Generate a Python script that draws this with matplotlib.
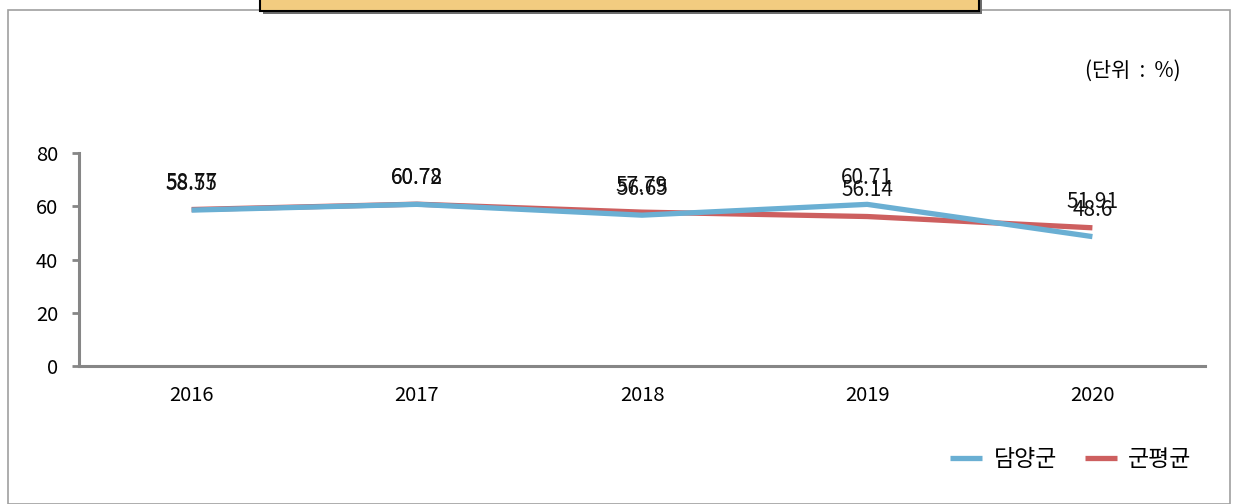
import matplotlib
matplotlib.use("Agg")
import matplotlib.pyplot as plt
from matplotlib.patches import Rectangle

plt.rcParams['font.family'] = ['Noto Sans CJK KR', 'DejaVu Sans']

years = ['2016', '2017', '2018', '2019', '2020']
damyang = [58.55, 60.72, 56.65, 60.71, 48.6]
avg = [58.77, 60.78, 57.79, 56.14, 51.91]
names = ['담양군', '군평균']

W, H = 1236, 504
fig = plt.figure(figsize=(W / 100, H / 100), dpi=100)

# outer frame
fig.add_artist(Rectangle((8 / W, 0), 1222 / W, 1 - 10 / H, transform=fig.transFigure,
                         fill=False, edgecolor='#a0a0a0', linewidth=1.2))
# title box cut off at the top (shadow + box)
fig.add_artist(Rectangle((263 / W, 1 - 14 / H), 719 / W, 14 / H, transform=fig.transFigure,
                         facecolor='#6e6e6e', edgecolor='none'))
fig.add_artist(Rectangle((260 / W, 1 - 11 / H), 719 / W, 13 / H, transform=fig.transFigure,
                         facecolor='#f2cc80', edgecolor='black', linewidth=1.5))

ax = fig.add_axes([79 / W, 1 - 366 / H, (1205 - 79) / W, (366 - 153) / H])
x = range(len(years))
ax.plot(x, avg, color='#cd5f5f', linewidth=3.8, solid_capstyle='butt', label=names[1])
ax.plot(x, damyang, color='#6aafd3', linewidth=3.8, solid_capstyle='butt', label=names[0])

for i in x:
    ax.annotate(f'{avg[i]:g}', (i, avg[i]), xytext=(0, 11), textcoords='offset points',
                ha='center', va='bottom', fontsize=15, color='#111111')
    ax.annotate(f'{damyang[i]:g}', (i, damyang[i]), xytext=(0, 11), textcoords='offset points',
                ha='center', va='bottom', fontsize=15, color='#111111')

ax.set_xlim(-0.5, 4.5)
ax.set_ylim(0, 80)
ax.set_yticks([0, 20, 40, 60, 80])
ax.set_xticks(list(x))
ax.set_xticklabels(years)
ax.tick_params(axis='y', length=5, width=2, color='#868686', labelsize=14.5, pad=10)
ax.tick_params(axis='x', length=0, labelsize=14.5, pad=14)
for s in ['top', 'right']:
    ax.spines[s].set_visible(False)
for s in ['left', 'bottom']:
    ax.spines[s].set_color('#868686')
    ax.spines[s].set_linewidth(2.2)

fig.text(1133 / W, 1 - 71 / H, '(단위  :  %)', ha='center', va='center', fontsize=15)

handles, labels = ax.get_legend_handles_labels()
fig.legend(handles[::-1], labels[::-1], loc='center', bbox_to_anchor=(1071 / W, 1 - 460 / H),
           ncol=2, frameon=False, fontsize=16.5, handlelength=1.4, columnspacing=1.2,
           handletextpad=0.5)

fig.savefig('out.png', dpi=100)
